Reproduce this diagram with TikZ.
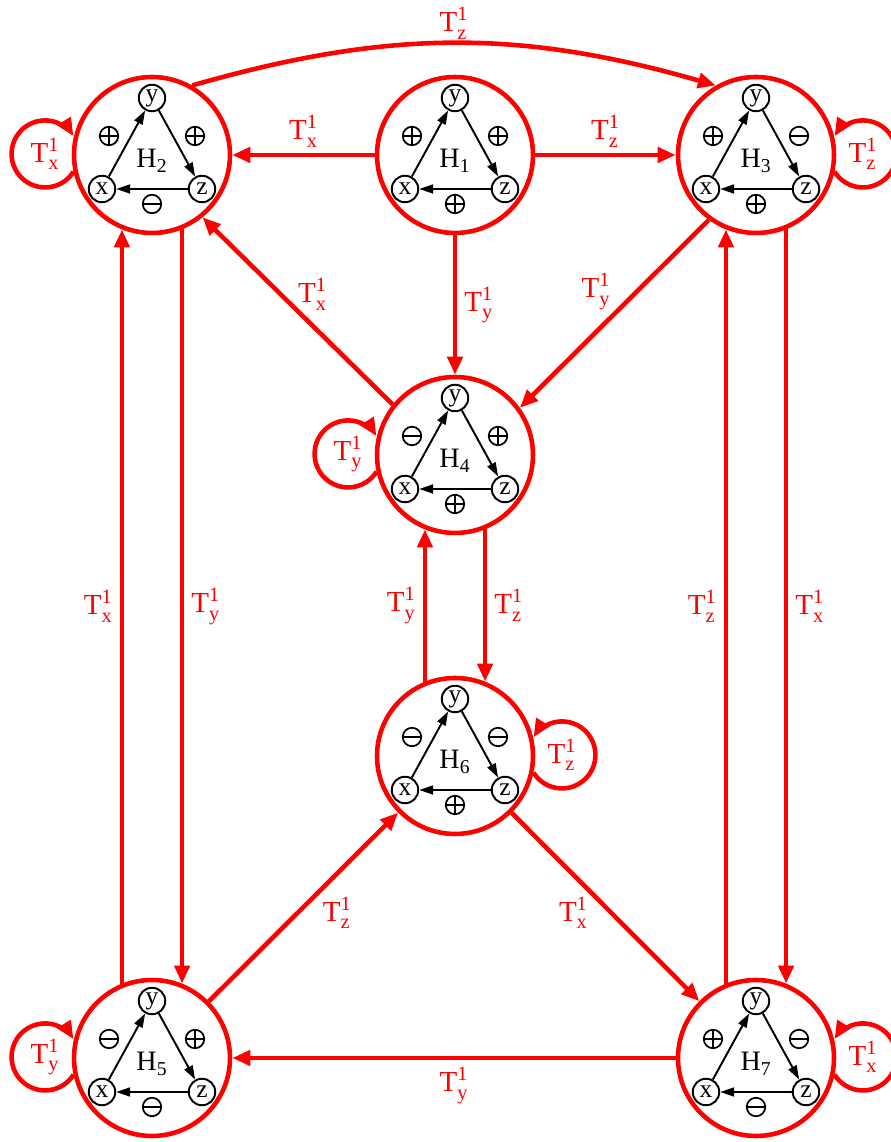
\documentclass[tikz,border=0pt]{standalone}
\usepackage{fontspec}
\usepackage{amsmath}
\setmainfont{Liberation Serif}
\usetikzlibrary{arrows.meta}
\newcommand{\Tl}[1]{$\text{T}^{\text{1}}_{\text{#1}}$}

\begin{document}
\begin{tikzpicture}[x=0.02cm,y=0.02cm,
	hnode/.style={circle,draw=red,line width=2.6pt,minimum size=3.12cm,inner sep=0pt},
	hlab/.style={font=\fontsize{16}{18}\selectfont,inner sep=0pt},
	vnode/.style={circle,draw,line width=1.1pt,minimum size=0.53cm,inner sep=0pt,font=\fontsize{14.5}{16}\selectfont},
	sgn/.style={circle,draw,line width=1pt,minimum size=0.37cm,inner sep=0pt,
		path picture={\draw[line width=1pt] (path picture bounding box.west) -- (path picture bounding box.east);
			\ifnum#1=1 \draw[line width=1pt] (path picture bounding box.north) -- (path picture bounding box.south);\fi}},
	harrow/.style={line width=1.1pt,-{Triangle[length=0.28cm,width=0.18cm]}},
	tr/.style={draw=red,line width=2.6pt,-{Triangle[length=0.36cm,width=0.3cm]}},
	tlab/.style={text=red,font=\fontsize{16.5}{18}\selectfont,inner sep=1pt}]
	\useasboundingbox (0,0) rectangle (891,1142);
	% the seven states
	\foreach \n/\cx/\cy/\sa/\sb/\sc in {1/455/987/1/1/1, 2/152/987/1/1/0, 3/756/987/1/0/1, 4/455/687/0/1/1, 5/152/84/0/1/0, 6/455/386/0/0/1, 7/756/84/1/0/0}{
		\begin{scope}[shift={(\cx,\cy)}]
			\node[hnode] (H\n) at (0,0) {};
			\node[hlab] (h\n) at (0,-6) {$\text{H}_{\text{\n}}$};
			\node[vnode] (y\n) at (0,57) {y};
			\node[vnode] (x\n) at (-50,-34) {x};
			\node[vnode] (z\n) at (50,-34) {z};
			\draw[harrow] (x\n) -- (y\n);
			\draw[harrow] (y\n) -- (z\n);
			\draw[harrow] (z\n) -- (x\n);
			\node[sgn=\sa] (sa\n) at (-43,19) {};
			\node[sgn=\sb] (sb\n) at (43,19) {};
			\node[sgn=\sc] (sc\n) at (0,-49) {};
		\end{scope}
	}
	% transitions
	\draw[tr] (H1) -- node[tlab,above=2pt] {\Tl{x}} (H2);
	\draw[tr] (H1) -- node[tlab,above=2pt] {\Tl{z}} (H3);
	\draw[tr] (H2.60) to[bend left=16] node[tlab,above=0pt] {\Tl{z}} (H3.120);
	\draw[tr] (H1) -- node[tlab,right=3pt] {\Tl{y}} (H4);
	\draw[tr] (H3.234) -- node[tlab,above left=0pt] {\Tl{y}} (H4.36);
	\draw[tr] (H4.141) -- node[tlab,above right=-2pt] {\Tl{x}} (H2.-51);
	\draw[tr] (H2.-68) -- node[tlab,right=3pt] {\Tl{y}} (H5.68);
	\draw[tr] (H5.112) -- node[tlab,left=3pt] {\Tl{x}} (H2.-112);
	\draw[tr] (H4.-68) -- node[tlab,right=3pt] {\Tl{z}} (H6.68);
	\draw[tr] (H6.112) -- node[tlab,left=3pt] {\Tl{y}} (H4.-112);
	\draw[tr] (H3.-68) -- node[tlab,right=3pt] {\Tl{x}} (H7.68);
	\draw[tr] (H7.112) -- node[tlab,left=3pt] {\Tl{z}} (H3.-112);
	\draw[tr] (H5) -- node[tlab,pos=0.47,right=12pt] {\Tl{z}} (H6);
	\draw[tr] (H6) -- node[tlab,pos=0.53,left=11pt] {\Tl{x}} (H7);
	\draw[tr] (H7) -- node[tlab,below=3pt] {\Tl{y}} (H5);
	% self loops
	\draw[tr] (H2.192) arc[start angle=-32,end angle=-328,radius=0.67cm] node[tlab,pos=0.5,xshift=0.67cm] {\Tl{x}};
	\draw[tr] (H4.192) arc[start angle=-32,end angle=-328,radius=0.67cm] node[tlab,pos=0.5,xshift=0.67cm] {\Tl{y}};
	\draw[tr] (H5.192) arc[start angle=-32,end angle=-328,radius=0.67cm] node[tlab,pos=0.5,xshift=0.67cm] {\Tl{y}};
	\draw[tr] (H3.-12) arc[start angle=212,end angle=508,radius=0.67cm] node[tlab,pos=0.5,xshift=-0.67cm] {\Tl{z}};
	\draw[tr] (H6.-12) arc[start angle=212,end angle=508,radius=0.67cm] node[tlab,pos=0.5,xshift=-0.67cm] {\Tl{z}};
	\draw[tr] (H7.-12) arc[start angle=212,end angle=508,radius=0.67cm] node[tlab,pos=0.5,xshift=-0.67cm] {\Tl{x}};
\end{tikzpicture}
\end{document}
